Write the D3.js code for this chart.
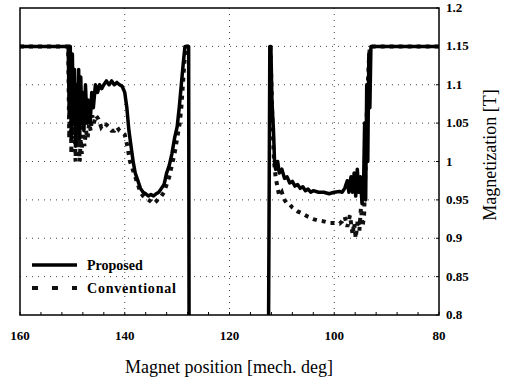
<!DOCTYPE html>
<html><head><meta charset="utf-8">
<script src="https://cdn.jsdelivr.net/npm/d3@7"></script>
<style>body{margin:0;background:#fff}svg{display:block}</style>
</head><body><svg id="c" width="505" height="380"></svg>
<script>
const xTicks = [160, 140, 120, 100, 80];
const yTicks = [0.8, 0.85, 0.9, 0.95, 1.0, 1.05, 1.1, 1.15, 1.2];
const yTickLabels = ["0.8","0.85","0.9","0.95","1","1.05","1.1","1.15","1.2"];
const seriesNames = ["Proposed", "Conventional"];

const proposedX = [160,151,150.8,150.6,150.4,150.2,150.0,149.8,149.6,149.4,149.2,149.0,148.8,148.6,148.4,148.2,148.0,147.8,147.5,147.2,147.0,146.6,146.3,146.0,145.6,145.2,144.8,144.4,144,143.5,143,142.5,142,141.5,141,140.5,140,139.6,139.2,138.8,138.4,138,137.5,137,136.5,136,135.5,135,134.5,134,133.5,133,132.5,132,131.5,131,130.5,130,129.6,129.2,128.8,128.5,128.2,127.8,127.7,
  112.6,112.3,112.1,111.9,111.6,111.4,111.2,110.8,110.5,110.0,109.5,109,108.5,108,107.5,107,106.5,106,105.5,105,104.5,104,103,102,101,100,99,98.5,98,97.5,97.2,96.8,96.5,96.2,95.9,95.6,95.3,95,94.7,94.4,94.2,94.0,93.8,93.6,93.4,93.2,93.0,92.5,80];
const proposedY = [1.15,1.15,1.15,1.06,1.15,1.03,1.14,1.05,1.12,1.02,1.10,1.04,1.12,1.03,1.11,1.05,1.09,1.04,1.10,1.05,1.08,1.05,1.09,1.07,1.10,1.09,1.10,1.095,1.10,1.105,1.10,1.105,1.10,1.103,1.10,1.098,1.09,1.07,1.04,1.02,1.0,0.985,0.975,0.965,0.96,0.958,0.955,0.957,0.955,0.958,0.96,0.965,0.97,0.985,0.995,1.01,1.03,1.045,1.07,1.10,1.13,1.15,1.15,1.15,0.7,
  0.7,1.15,1.15,1.08,1.04,1.0,0.99,1.0,0.985,0.99,0.978,0.98,0.972,0.974,0.968,0.97,0.965,0.967,0.962,0.964,0.96,0.962,0.96,0.96,0.958,0.96,0.961,0.96,0.965,0.975,0.96,0.98,0.96,0.985,0.955,0.99,0.96,0.98,0.945,0.97,1.05,0.95,1.10,1.0,1.14,1.07,1.15,1.15,1.15];

const conventionalX = [160,151,150.8,150.6,150.4,150.2,150.0,149.8,149.6,149.4,149.2,149.0,148.8,148.6,148.4,148.2,148.0,147.7,147.4,147.1,146.8,146.5,146.2,145.9,145.5,145,144.5,144,143.5,143,142.5,142,141.5,141,140.5,140,139.5,139,138.5,138,137.5,137,136.5,136,135.5,135,134.5,134,133.5,133,132.5,132,131.5,131,130.5,130,129.5,129.2,128.9,128.6,128.4,127.8,
  112.2,111.8,111.5,111.2,110.8,110.5,110,109.5,109,108.5,108,107,106,105,104,103,102,101,100,99,98.5,98,97.5,97,96.5,96.2,95.9,95.5,95.2,94.9,94.6,94.3,94,93.8,93.6,93.4,93.2,80];
const conventionalY = [1.15,1.15,1.15,1.03,1.12,1.01,1.10,1.03,1.08,1.0,1.06,1.02,1.04,1.0,1.03,1.01,1.05,1.02,1.04,1.03,1.05,1.04,1.06,1.05,1.06,1.055,1.045,1.05,1.048,1.045,1.04,1.04,1.045,1.04,1.038,1.035,1.02,1.0,0.99,0.98,0.97,0.96,0.955,0.952,0.95,0.948,0.945,0.948,0.952,0.955,0.96,0.97,0.98,0.995,1.01,1.03,1.05,1.07,1.10,1.13,1.15,1.15,
  1.15,1.05,1.0,0.98,0.965,0.955,0.96,0.95,0.945,0.944,0.94,0.935,0.932,0.928,0.925,0.923,0.922,0.92,0.92,0.919,0.922,0.928,0.915,0.93,0.905,0.92,0.9,0.925,0.91,0.94,0.915,0.93,1.0,1.06,1.10,1.13,1.15,1.15];
const proposedBreak = 65;
const conventionalBreak = 62;

const svg = d3.select("#c");
const L = 20, R = 439, T = 8, B = 315;
const x = d3.scaleLinear().domain([160, 80]).range([L, R]);
const y = d3.scaleLinear().domain([0.8, 1.2]).range([B, T]);

svg.append("defs").append("clipPath").attr("id","clip")
  .append("rect").attr("x",L).attr("y",T).attr("width",R-L).attr("height",B-T);

const grid = svg.append("g").attr("stroke","#444").attr("stroke-width",1).attr("stroke-dasharray","1,5");
[140,120,100].forEach(v => grid.append("line").attr("x1",x(v)).attr("x2",x(v)).attr("y1",T).attr("y2",B));
[0.85,0.9,0.95,1.0,1.05,1.1,1.15].forEach(v => grid.append("line").attr("x1",L).attr("x2",R).attr("y1",y(v)).attr("y2",y(v)));

const mt = svg.append("g").attr("stroke","#000").attr("stroke-width",1);
d3.range(160, 79, -4).forEach(v => mt.append("line").attr("x1",x(v)).attr("x2",x(v)).attr("y1",B).attr("y2",B-3));
yTicks.forEach(v => mt.append("line").attr("x1",R).attr("x2",R-3).attr("y1",y(v)).attr("y2",y(v)));

function pts(xs, ys, br){
  const a = xs.slice(0,br).map((d,i)=>[d, ys[i]]);
  const b = xs.slice(br).map((d,i)=>[d, ys[br+i]]);
  return [a,b];
}
const line = d3.line().x(d=>x(d[0])).y(d=>y(d[1]));
const g = svg.append("g").attr("clip-path","url(#clip)");
pts(conventionalX, conventionalY, conventionalBreak).forEach(s =>
  g.append("path").attr("d",line(s)).attr("fill","none").attr("stroke","#111")
   .attr("stroke-width",4).attr("stroke-dasharray","4,5"));
pts(proposedX, proposedY, proposedBreak).forEach(s =>
  g.append("path").attr("d",line(s)).attr("fill","none").attr("stroke","#000")
   .attr("stroke-width",3.5).attr("stroke-linejoin","round"));

svg.append("rect").attr("x",L).attr("y",T).attr("width",R-L).attr("height",B-T)
  .attr("fill","none").attr("stroke","#000").attr("stroke-width",1.5);

const FF = "Liberation Serif";
const tl = svg.append("g");
xTicks.forEach(v => tl.append("text").attr("x",x(v)).attr("y",340).attr("text-anchor","middle")
  .attr("font-family",FF).attr("font-weight","bold").attr("font-size",13).text(v));
yTicks.forEach((v,i) => tl.append("text").attr("x",446).attr("y",y(v)+4)
  .attr("font-family",FF).attr("font-weight","bold").attr("font-size",13).text(yTickLabels[i]));

svg.append("text").attr("x",229).attr("y",373).attr("text-anchor","middle")
  .attr("font-family",FF).attr("font-size",18).text("Magnet position [mech. deg]");
svg.append("text").attr("transform","translate(496,155) rotate(-90)").attr("text-anchor","middle")
  .attr("font-family",FF).attr("font-size",18).text("Magnetization [T]");

const lg = svg.append("g");
lg.append("line").attr("x1",32).attr("x2",77).attr("y1",265).attr("y2",265).attr("stroke","#000").attr("stroke-width",3.5);
lg.append("line").attr("x1",32).attr("x2",77).attr("y1",288).attr("y2",288).attr("stroke","#111").attr("stroke-width",4).attr("stroke-dasharray","6,14");
lg.append("text").attr("x",87).attr("y",270).attr("font-family",FF).attr("font-weight","bold").attr("font-size",14).text(seriesNames[0]);
lg.append("text").attr("x",87).attr("y",293).attr("font-family",FF).attr("font-weight","bold").attr("font-size",14).attr("letter-spacing",0.8).text(seriesNames[1]);
</script></body></html>
